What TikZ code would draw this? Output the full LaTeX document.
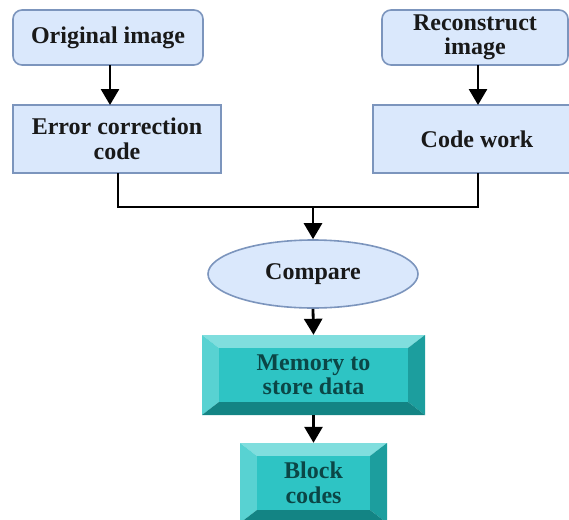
\documentclass[tikz,border=0pt]{standalone}
\usepackage{fontspec}
\setmainfont{Liberation Serif}
\usetikzlibrary{arrows.meta,shapes.geometric,calc}
\definecolor{bluefill}{HTML}{DAE8FC}
\definecolor{blueline}{HTML}{7C95BD}
\definecolor{tealmid}{HTML}{2EC4C4}
\definecolor{tealtop}{HTML}{80DEDE}
\definecolor{tealleft}{HTML}{58D2D2}
\definecolor{tealright}{HTML}{1C9E9E}
\definecolor{tealbot}{HTML}{138484}
\definecolor{tealtext}{HTML}{0B4646}
\tikzset{
  x=1pt,y=-1pt,
  txt/.style={font=\fontsize{24}{24.5}\selectfont\bfseries, align=center, text=black!90},
  roundbox/.style={txt, draw=blueline, fill=bluefill, line width=1.6pt, rounded corners=9pt},
  sqbox/.style={txt, draw=blueline, fill=bluefill, line width=1.6pt},
  ovalbox/.style={txt, ellipse, draw=blueline, fill=bluefill, line width=1.6pt},
  conn/.style={line width=2.8pt, black},
  arr/.style={conn, -{Triangle[width=18pt,length=16pt]}},
  beveltxt/.style={txt, text=tealtext}
}
\newcommand{\bevelbox}[6]{%
  % #1 name, #2 x1, #3 y1, #4 x2, #5 y2, #6 text
  \fill[tealtop] (#2,#3) -- (#4,#3) -- (#4-17,#3+13) -- (#2+17,#3+13) -- cycle;
  \fill[tealleft] (#2,#3) -- (#2+17,#3+13) -- (#2+17,#5-13) -- (#2,#5) -- cycle;
  \fill[tealright] (#4,#3) -- (#4,#5) -- (#4-17,#5-13) -- (#4-17,#3+13) -- cycle;
  \fill[tealbot] (#2,#5) -- (#2+17,#5-13) -- (#4-17,#5-13) -- (#4,#5) -- cycle;
  \fill[tealmid] (#2+17,#3+13) rectangle (#4-17,#5-13);
  \node[beveltxt, minimum width={#4-#2}, minimum height={#5-#3}, inner sep=0pt] (#1) at ({(#2+#4)/2},{(#3+#5)/2}) {#6};
}
\begin{document}
\begin{tikzpicture}
\useasboundingbox (0,0) rectangle (569,519);
\node[roundbox, minimum width=190pt, minimum height=55pt, inner sep=0pt] (orig) at (108,37.5) {Original image};
\node[sqbox, minimum width=208pt, minimum height=68pt, inner sep=0pt] (ecc) at (117,139) {Error correction\\code};
\node[roundbox, minimum width=186pt, minimum height=55pt, inner sep=0pt] (recon) at (475,37.5) {Reconstruct\\image};
\node[sqbox, minimum width=208pt, minimum height=68pt, inner sep=0pt] (cw) at (477,139) {Code work};
\node[ovalbox, minimum width=210pt, minimum height=68pt, inner sep=0pt] (cmp) at (313,274) {Compare};
\bevelbox{mem}{202}{335}{425}{415}{Memory to\\store data}
\bevelbox{blk}{240}{443}{387}{523}{Block\\codes}
\coordinate (jl) at (118,207);
\coordinate (jr) at (478,207);
\coordinate (jm) at (313,207);
\draw[arr] (110,65) -- (110,105);
\draw[arr] (478,65) -- (478,105);
\draw[conn] (118,173) -- (jl) -- (jr) -- (478,173);
\draw[arr] (jm) -- (cmp.north);
\draw[arr] (cmp.south) -- (mem.north);
\draw[arr] (mem.south) -- (blk.north);
\end{tikzpicture}
\end{document}
